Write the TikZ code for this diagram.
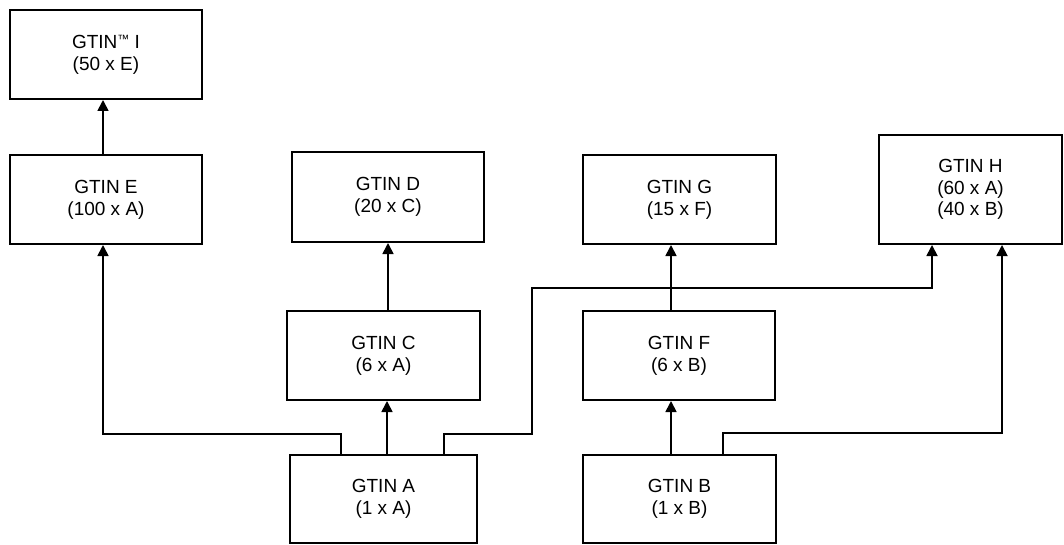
\documentclass[tikz,border=0pt]{standalone}
\usepackage{fontspec}
\setmainfont{Liberation Sans}
\usetikzlibrary{arrows.meta}
\newcommand{\tmark}{\raisebox{4.5pt}{\fontsize{12}{12}\selectfont ™}}
\begin{document}
\begin{tikzpicture}[x=1pt,y=-1pt,
  box/.style={draw,line width=2pt,align=center,inner sep=0pt,
    font=\fontsize{19}{21.7}\selectfont},
  arr/.style={line width=1.7pt,-{Triangle[length=11pt,width=11pt]}}]
\useasboundingbox (0,0) rectangle (1064,545);
% boxes
\node[box,minimum width=192pt,minimum height=89pt] (I) at (106,54.5) {GTIN\tmark\ I\\(50 x E)};
\node[box,minimum width=192pt,minimum height=89pt] (E) at (106,199.5) {GTIN E\\(100 x A)};
\node[box,minimum width=192pt,minimum height=90pt] (D) at (388,197) {GTIN D\\(20 x C)};
\node[box,minimum width=193pt,minimum height=89pt] (G) at (679.5,199.5) {GTIN G\\(15 x F)};
\node[box,minimum width=183pt,minimum height=109pt] (H) at (970.5,189.5) {GTIN H\\(60 x A)\\(40 x B)};
\node[box,minimum width=193pt,minimum height=89pt] (C) at (383.5,355.5) {GTIN C\\(6 x A)};
\node[box,minimum width=192pt,minimum height=89pt] (F) at (679,355.5) {GTIN F\\(6 x B)};
\node[box,minimum width=187pt,minimum height=88pt] (A) at (383.5,499) {GTIN A\\(1 x A)};
\node[box,minimum width=193pt,minimum height=88pt] (B) at (679.5,499) {GTIN B\\(1 x B)};
% helper coordinates
\coordinate (xe) at (103,0);
\coordinate (xal) at (341,0);
\coordinate (xac) at (387,0);
\coordinate (xcd) at (388,0);
\coordinate (xar) at (444,0);
\coordinate (xf) at (671,0);
\coordinate (xb) at (723,0);
\coordinate (xh1) at (932,0);
\coordinate (jL) at (103,434);
\coordinate (j1) at (532,434);
\coordinate (j2) at (532,288);
\coordinate (j3) at (1002,433);
% connectors
\draw[arr] (E.north -| xe) -- (I.south -| xe);
\draw[arr] (A.north -| xal) |- (jL) -- (E.south -| jL);
\draw[arr] (A.north -| xac) -- (C.south -| xac);
\draw[arr] (C.north -| xcd) -- (D.south -| xcd);
\draw[arr] (A.north -| xar) |- (j1) -- (j2) -| (H.south -| xh1);
\draw[arr] (B.north -| xf) -- (F.south -| xf);
\draw[arr] (F.north -| xf) -- (G.south -| xf);
\draw[arr] (B.north -| xb) |- (j3) -- (H.south -| j3);
\end{tikzpicture}
\end{document}
